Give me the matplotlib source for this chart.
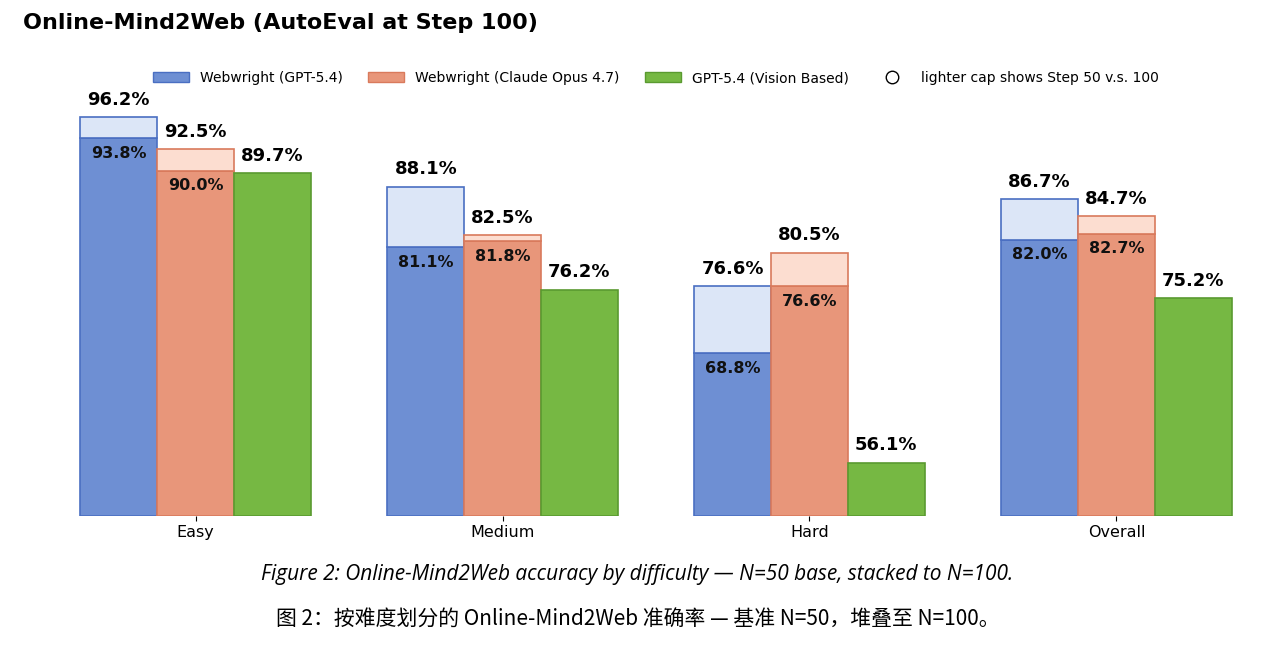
import numpy as np
import matplotlib.pyplot as plt
from matplotlib.lines import Line2D
from matplotlib.patches import Patch

categories = ["Easy", "Medium", "Hard", "Overall"]
series_names = ["Webwright (GPT-5.4)", "Webwright (Claude Opus 4.7)", "GPT-5.4 (Vision Based)"]
step50 = [
    [93.8, 81.1, 68.8, 82.0],
    [90.0, 81.8, 76.6, 82.7],
    [89.7, 76.2, 56.1, 75.2],
]
step100 = [
    [96.2, 88.1, 76.6, 86.7],
    [92.5, 82.5, 80.5, 84.7],
    [None, None, None, None],
]

colors = ["#6e8fd3", "#e8967a", "#76b843"]
edges = ["#4a6fc2", "#d97a5c", "#5a9a30"]
caps = ["#dce6f7", "#fcddd0", None]

fig = plt.figure(figsize=(12.75, 6.51), dpi=100)
ax = fig.add_axes([0.033, 0.208, 0.963, 0.702])

x = np.arange(len(categories))
w = 0.25
for i in range(3):
    xs = x + (i - 1) * w
    ax.bar(xs, np.array(step50[i]) - 50, w, bottom=50, color=colors[i],
           edgecolor=edges[i], linewidth=1.2)
    for j, xc in enumerate(xs):
        base = step50[i][j]
        top = step100[i][j]
        if top is None:
            ax.text(xc, base + 1.0, f"{base:.1f}%", ha="center", va="bottom",
                    fontsize=13, fontweight="bold")
            continue
        ax.bar(xc, top - base, w, bottom=base, color=caps[i],
               edgecolor=edges[i], linewidth=1.2)
        ax.text(xc, top + 1.0, f"{top:.1f}%", ha="center", va="bottom",
                fontsize=13, fontweight="bold")
        ax.text(xc, base - 0.9, f"{base:.1f}%", ha="center", va="top",
                fontsize=11.5, fontweight="bold", color="#111111")

ax.set_xlim(-0.5, 3.5)
ax.set_ylim(50, 103)
ax.set_xticks(x)
ax.set_xticklabels(categories, fontsize=11.5)
ax.set_yticks([])
for s in ax.spines.values():
    s.set_visible(False)

handles = [Patch(facecolor=colors[i], edgecolor=edges[i]) for i in range(3)]
handles.append(Line2D([], [], marker="o", linestyle="none", markerfacecolor="white",
                      markeredgecolor="black", markersize=9))
ax.legend(handles, series_names + ["lighter cap shows Step 50 v.s. 100"],
          loc="upper center", bbox_to_anchor=(0.5, 1.0), ncol=4, frameon=False,
          fontsize=10, handlelength=2.6, columnspacing=1.8)

fig.text(0.018, 0.965, "Online-Mind2Web (AutoEval at Step 100)", fontsize=16,
         fontweight="bold", va="center")
fig.text(0.5, 0.118, "Figure 2: Online-Mind2Web accuracy by difficulty — N=50 base, stacked to N=100.",
         ha="center", va="center", fontsize=15, style="italic",
         family=["Open Sans", "DejaVu Sans"])
fig.text(0.5, 0.048, "图 2：按难度划分的 Online-Mind2Web 准确率 — 基准 N=50，堆叠至 N=100。",
         ha="center", va="center", fontsize=15, style="italic",
         family=["Noto Sans CJK SC", "DejaVu Sans"])

fig.savefig("out.png", dpi=100)
